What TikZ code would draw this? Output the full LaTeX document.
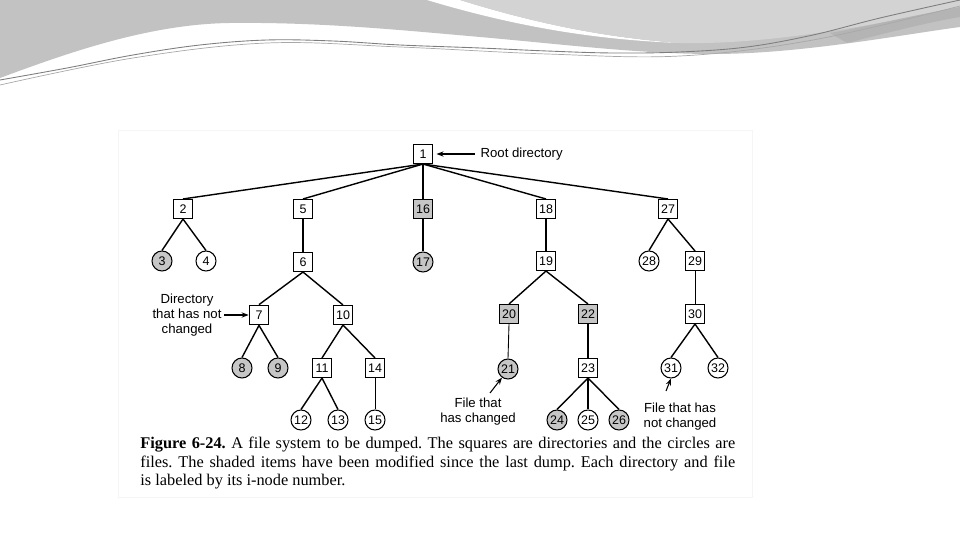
\documentclass[tikz,border=0pt]{standalone}
\usepackage{fontspec}
\setmainfont{Liberation Sans}
\newfontfamily\capfont{Liberation Serif}
\usetikzlibrary{arrows.meta}
\definecolor{shade}{HTML}{C6C6C6}
\definecolor{wavemid}{HTML}{C2C2C2}
\definecolor{wavelt}{HTML}{D3D3D3}
\definecolor{wavedk}{HTML}{B4B4B4}
\definecolor{waveline}{HTML}{7E7E7E}
\definecolor{wavelinelt}{HTML}{A8A8A8}

\tikzset{
  dirbox/.style={draw, line width=0.6pt, minimum size=0.38cm, inner sep=0pt,
                 font=\fontsize{7.1}{8}\selectfont},
  filecirc/.style={draw, circle, line width=0.6pt, minimum size=0.4cm, inner sep=0pt,
                   font=\fontsize{7.1}{8}\selectfont},
  edge/.style={line width=0.8pt},
  thinedge/.style={line width=0.5pt},
  ptr/.style={line width=0.6pt, -{Stealth[length=4pt,width=3pt]}},
  note/.style={font=\fontsize{7.5}{8.5}\selectfont, align=center, inner sep=1.5pt}
}

\begin{document}
\begin{tikzpicture}[x=0.02cm, y=-0.02cm]
  \useasboundingbox (0,0) rectangle (960,540);
  % slide header waves
  \fill[wavemid] (0,0) -- (960,0) -- (960,27)
    .. controls (900,35) and (800,54) .. (713,54)
    .. controls (640,54) and (560,44) .. (480,37)
    .. controls (400,30) and (320,22) .. (230,23)
    .. controls (150,24) and (70,52) .. (0,78) -- cycle;
  \fill[white] (427,0) -- (460,0) .. controls (540,25) and (610,38) .. (680,43)
    .. controls (600,40) and (520,28) .. (427,0) -- cycle;
  \fill[wavelt] (460,0) -- (960,0) -- (960,7)
    .. controls (880,24) and (770,45) .. (680,43)
    .. controls (610,38) and (540,25) .. (460,0) -- cycle;
  \fill[wavedk] (960,7) .. controls (900,18) and (860,28) .. (830,33)
    -- (847,43) .. controls (890,32) and (930,22) .. (960,17) -- cycle;
  \draw[waveline, line width=0.5pt] plot[smooth, tension=0.6] coordinates {(0,80) (67,68) (133,55)
    (200,45) (267,40) (333,41) (400,45) (480,48) (547,51) (613,53) (680,52) (747,47) (813,35)
    (880,18) (960,0)};
  \draw[wavelinelt, line width=0.4pt] plot[smooth, tension=0.6] coordinates {(0,85) (133,58)
    (267,43) (400,47) (547,54) (680,56) (813,40) (960,6)};
  % figure frame
  \draw[black!4] (118,130) rectangle (752,497);

  % directories
  \foreach \n/\x/\y/\f in {1/423/154/white, 2/183/209/white, 5/303/209/white,
      16/423/209/shade, 18/546/209/white, 27/668/209/white, 6/303/262/white,
      19/546/261/white, 29/695/261/white, 10/343/315/white, 20/509/314/shade,
      22/588/314/shade, 30/695/314/white, 11/322/368/white, 14/375/368/white,
      23/588/368/white}
    \node[dirbox, fill=\f] (n\n) at (\x,\y) {\n};
  \node[dirbox, line width=1pt] (n7) at (259,315) {7};
  % files
  \foreach \n/\x/\y/\f in {3/162/261/shade, 4/206/261/white, 17/423/262/shade,
      28/649/261/white, 8/242/368/shade, 9/278/368/shade, 21/508/369/shade,
      31/671/368/white, 32/718/368/white, 12/301/420/white, 13/338/420/white,
      15/375/420/white, 24/557/420/shade, 25/588/420/white, 26/619/420/shade}
    \node[filecirc, fill=\f] (n\n) at (\x,\y) {\n};

  % tree edges
  \foreach \a/\b in {1/2,1/5,1/16,1/18,1/27,2/3,2/4,5/6,6/7,6/10,7/8,7/9,10/11,10/14,
      11/12,11/13,16/17,18/19,19/20,19/22,22/23,23/24,23/25,23/26,27/28,27/29,30/31,30/32}
    \draw[edge] (n\a.south) -- (n\b.north);
  \foreach \a/\b in {14/15,20/21,29/30}
    \draw[thinedge] (n\a.south) -- (n\b.north);

  % labels
  \node[note, anchor=west, inner sep=3pt] (rootlbl) at (475,154) {Root directory};
  \draw[ptr, shorten >=2pt] (rootlbl.west) -- (n1.east);
  \node[note] (dirlbl) at (187,315) {Directory\\that has not\\changed};
  \draw[ptr] (dirlbl.east) -- (n7.west);
  \node[note] (chglbl) at (478,412) {File that\\has changed};
  \coordinate (chgtail) at (490,393);
  \draw[ptr] (chgtail) -- (n21.235);
  \node[note] (nchlbl) at (680,417) {File that has\\not changed};
  \coordinate (nchtail) at (666,391);
  \draw[ptr] (nchtail) -- (n31.south);

  % caption
  \node[anchor=north west, inner sep=0pt, text width=11.9cm, align=justify,
        font=\capfont\fontsize{9.3}{10.5}\selectfont\frenchspacing] (caption) at (140,437)
    {\textbf{Figure 6-24.} A file system to be dumped. The squares are directories and the circles are\linebreak
     files. The shaded items have been modified since the last dump. Each directory and file\linebreak
     is labeled by its i-node number.};
\end{tikzpicture}
\end{document}
